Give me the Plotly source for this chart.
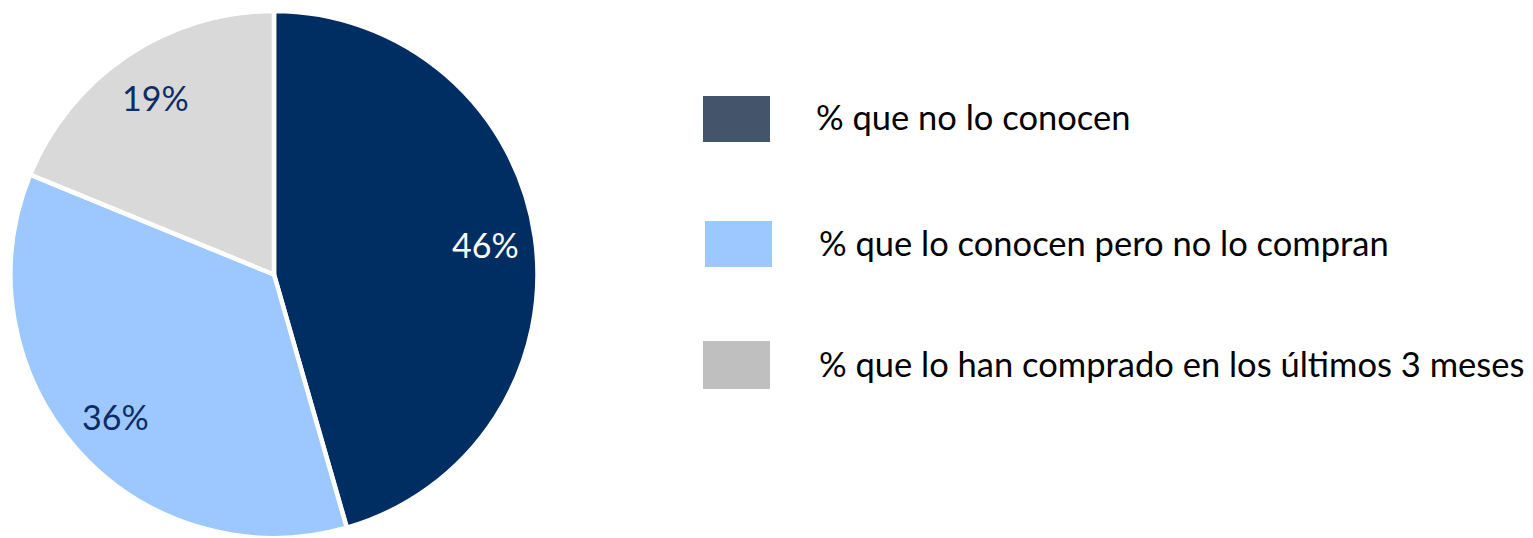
import numpy as np
import plotly.graph_objects as go

# Data
categories = [
    "% que no lo conocen",
    "% que lo conocen pero no lo compran",
    "% que lo han comprado en los últimos 3 meses",
]
values = [46, 36, 19]
slice_colors = ["#002D62", "#9DC8FF", "#D9D9D9"]
legend_colors = ["#44546A", "#9DC8FF", "#BFBFBF"]
label_colors = ["#FFFFFF", "#0B2C66", "#0B2C66"]

W, H = 1533, 538
dom_x = [10 / W, 538 / W]
dom_y = [0.0, (H - 11) / H]

fig = go.Figure()
fig.add_trace(go.Pie(
    labels=categories,
    values=values,
    sort=False,
    direction="clockwise",
    rotation=0,
    marker=dict(colors=slice_colors, line=dict(color="white", width=4.5)),
    textinfo="none",
    hoverinfo="label+value",
    showlegend=False,
    domain=dict(x=dom_x, y=dom_y),
))

# Slice value labels placed along each slice's mid-angle
cx = (dom_x[0] + dom_x[1]) / 2 * W
cy = H - (dom_y[0] + dom_y[1]) / 2 * H
R = min((dom_x[1] - dom_x[0]) * W, (dom_y[1] - dom_y[0]) * H) / 2
vals = np.array(values, dtype=float)
cum = np.concatenate([[0], np.cumsum(vals)]) / vals.sum()
mid = (cum[:-1] + cum[1:]) / 2 * 2 * np.pi
annotations = []
for v, a, col in zip(values, mid, label_colors):
    px = cx + 0.81 * R * np.sin(a)
    py = cy - 0.81 * R * np.cos(a)
    annotations.append(dict(
        x=px / W, y=1 - py / H, xref="paper", yref="paper",
        text=f"{v}%", showarrow=False,
        font=dict(family="Lato", size=34, color=col),
        xanchor="center", yanchor="middle",
    ))

# Legend: swatches and labels
legend_rows = [
    (703, 770, 96, 142, 814),
    (705, 772, 221, 267, 817),
    (703, 770, 341, 389, 817),
]
shapes = []
for (x0, x1, y0, y1, tx), col, name in zip(legend_rows, legend_colors, categories):
    shapes.append(dict(
        type="rect", xref="paper", yref="paper",
        x0=x0 / W, x1=x1 / W, y0=1 - y1 / H, y1=1 - y0 / H,
        fillcolor=col, line=dict(width=0),
    ))
    annotations.append(dict(
        x=tx / W, y=1 - ((y0 + y1) / 2 - 2) / H, xref="paper", yref="paper",
        text=name, showarrow=False,
        font=dict(family="Lato", size=34.5, color="#000000"),
        xanchor="left", yanchor="middle",
    ))

fig.update_layout(
    width=W, height=H,
    margin=dict(l=0, r=0, t=0, b=0),
    paper_bgcolor="white",
    plot_bgcolor="white",
    shapes=shapes,
    annotations=annotations,
)

fig.write_html("out.html")
